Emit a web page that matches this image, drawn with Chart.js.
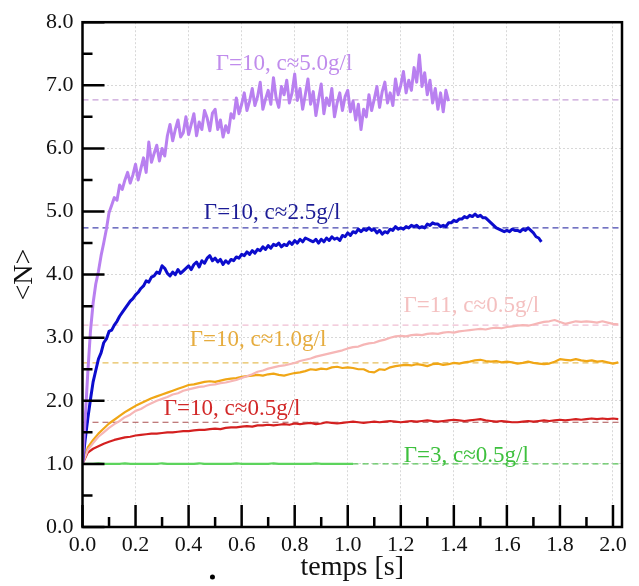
<!DOCTYPE html>
<html>
<head>
<meta charset="utf-8">
<script src="https://cdn.jsdelivr.net/npm/chart.js@4.4.0/dist/chart.umd.min.js"></script>
<style>
  html, body { margin: 0; padding: 0; background: #fff; }
  canvas { display: block; }
</style>
</head>
<body>
<canvas id="chart" width="639" height="586"></canvas>
<script>
// <N> vs temps, sampled every 0.01 s (noisy runs) or 0.02 s (smooth runs)
const g10c50 = [
  1.00, 1.70, 2.45, 3.10, 3.55, 3.85, 4.05, 4.30, 4.50, 4.72,
  4.98, 5.10, 5.22, 5.18, 5.42, 5.35, 5.50, 5.62, 5.45, 5.58,
  5.75, 5.50, 5.68, 5.85, 5.62, 6.10, 5.78, 5.92, 6.05, 5.80,
  6.00, 5.88, 6.20, 6.38, 6.12, 6.30, 6.45, 6.18, 6.25, 6.50,
  6.22, 6.38, 6.55, 6.20, 6.42, 6.30, 6.60, 6.48, 6.28, 6.56,
  6.62, 6.30, 6.45, 6.18, 6.36, 6.25, 6.55, 6.48, 6.80, 6.55,
  6.70, 6.88, 6.60, 6.75, 6.95, 6.68, 6.82, 7.05, 6.62, 6.78,
  6.92, 6.70, 7.12, 6.80, 6.65, 6.98, 6.85, 7.08, 6.72, 6.88,
  7.18, 6.76, 6.95, 6.62, 6.85, 7.10, 6.70, 6.90, 6.52, 6.78,
  7.02, 6.55, 6.80, 6.68, 6.95, 6.50, 6.72, 6.88, 6.60, 6.82,
  6.92, 6.58, 6.75, 6.45, 6.70, 6.30, 6.62, 6.50, 6.85, 6.60,
  6.78, 6.98, 6.65, 6.90, 7.05, 6.72, 6.88, 6.68, 7.10, 6.85,
  7.00, 7.22, 6.88, 7.08, 6.92, 7.28, 7.05, 7.48, 6.98, 7.20,
  6.85, 7.08, 6.72, 6.95, 6.62, 6.88, 6.58, 6.92, 6.75
];
const g10c25 = [
  1.00, 1.38, 1.72, 2.02, 2.30, 2.48, 2.66, 2.76, 2.92, 2.98,
  3.10, 3.12, 3.20, 3.26, 3.34, 3.40, 3.46, 3.52, 3.58, 3.62,
  3.68, 3.72, 3.78, 3.82, 3.90, 3.88, 3.96, 3.98, 4.04, 4.02,
  4.14, 4.10, 4.02, 3.98, 4.04, 4.00, 4.08, 4.02, 4.06, 4.10,
  4.14, 4.08, 4.16, 4.20, 4.12, 4.22, 4.18, 4.26, 4.30, 4.22,
  4.26, 4.20, 4.24, 4.16, 4.22, 4.18, 4.24, 4.22, 4.28, 4.26,
  4.32, 4.30, 4.36, 4.32, 4.38, 4.34, 4.40, 4.38, 4.44, 4.40,
  4.46, 4.42, 4.48, 4.46, 4.50, 4.44, 4.48, 4.46, 4.52, 4.48,
  4.54, 4.50, 4.56, 4.52, 4.58, 4.56, 4.54, 4.52, 4.56, 4.50,
  4.56, 4.52, 4.58, 4.54, 4.60, 4.56, 4.58, 4.54, 4.62, 4.60,
  4.66, 4.62, 4.68, 4.66, 4.72, 4.68, 4.72, 4.70, 4.74, 4.70,
  4.72, 4.66, 4.70, 4.64, 4.68, 4.66, 4.72, 4.70, 4.76, 4.72,
  4.74, 4.72, 4.76, 4.74, 4.78, 4.76, 4.78, 4.74, 4.76, 4.74,
  4.80, 4.78, 4.82, 4.80, 4.80, 4.76, 4.78, 4.76, 4.82, 4.82,
  4.86, 4.84, 4.88, 4.88, 4.92, 4.90, 4.94, 4.92, 4.96, 4.92,
  4.94, 4.90, 4.90, 4.86, 4.82, 4.78, 4.74, 4.72, 4.70, 4.68,
  4.70, 4.68, 4.72, 4.70, 4.70, 4.68, 4.72, 4.70, 4.74, 4.70,
  4.66, 4.60, 4.58, 4.52
];
const g11c05 = [
  1.00, 1.22, 1.33, 1.43, 1.50, 1.57, 1.63, 1.68, 1.74, 1.78,
  1.84, 1.87, 1.92, 1.96, 2.00, 2.03, 2.06, 2.10, 2.12, 2.16,
  2.18, 2.20, 2.22, 2.23, 2.25, 2.26, 2.28, 2.29, 2.31, 2.33,
  2.36, 2.39, 2.42, 2.46, 2.48, 2.51, 2.53, 2.55, 2.56, 2.58,
  2.60, 2.63, 2.65, 2.67, 2.70, 2.72, 2.74, 2.76, 2.78, 2.80,
  2.83, 2.85, 2.86, 2.89, 2.91, 2.92, 2.95, 2.97, 3.00, 3.02,
  3.03, 3.02, 3.04, 3.05, 3.04, 3.06, 3.07, 3.06, 3.08, 3.09,
  3.08, 3.10, 3.11, 3.12, 3.13, 3.14, 3.13, 3.15, 3.16, 3.15,
  3.17, 3.18, 3.19, 3.20, 3.19, 3.21, 3.23, 3.25, 3.26, 3.28,
  3.25, 3.22, 3.24, 3.26, 3.25, 3.26, 3.25, 3.24, 3.26, 3.24,
  3.22, 3.21
];
const g10c10 = [
  1.00, 1.26, 1.38, 1.48, 1.56, 1.64, 1.70, 1.76, 1.82, 1.87,
  1.92, 1.96, 2.00, 2.04, 2.07, 2.10, 2.13, 2.16, 2.19, 2.22,
  2.25, 2.26, 2.28, 2.30, 2.31, 2.30, 2.32, 2.34, 2.35, 2.36,
  2.38, 2.39, 2.40, 2.41, 2.40, 2.42, 2.43, 2.41, 2.40, 2.42,
  2.44, 2.45, 2.47, 2.50, 2.49, 2.51, 2.50, 2.53, 2.54, 2.52,
  2.53, 2.52, 2.50, 2.50, 2.46, 2.45, 2.50, 2.49, 2.53, 2.55,
  2.56, 2.57, 2.56, 2.58, 2.57, 2.55, 2.58, 2.59, 2.57, 2.58,
  2.60, 2.59, 2.61, 2.62, 2.64, 2.65, 2.63, 2.62, 2.63, 2.61,
  2.62, 2.61, 2.59, 2.60, 2.62, 2.60, 2.59, 2.58, 2.59, 2.62,
  2.66, 2.65, 2.64, 2.66, 2.64, 2.63, 2.64, 2.62, 2.63, 2.61,
  2.59, 2.61
];
const g10c05 = [
  1.00, 1.18, 1.24, 1.28, 1.32, 1.35, 1.38, 1.40, 1.42, 1.43,
  1.45, 1.46, 1.47, 1.48, 1.48, 1.49, 1.50, 1.50, 1.51, 1.52,
  1.52, 1.53, 1.54, 1.54, 1.55, 1.56, 1.55, 1.57, 1.58, 1.58,
  1.59, 1.60, 1.59, 1.61, 1.61, 1.62, 1.61, 1.62, 1.63, 1.62,
  1.64, 1.63, 1.64, 1.65, 1.63, 1.64, 1.66, 1.65, 1.64, 1.65,
  1.66, 1.67, 1.66, 1.65, 1.66, 1.67, 1.66, 1.67, 1.68, 1.67,
  1.66, 1.67, 1.68, 1.67, 1.68, 1.69, 1.68, 1.67, 1.68, 1.69,
  1.70, 1.69, 1.68, 1.69, 1.70, 1.71, 1.69, 1.68, 1.67, 1.68,
  1.67, 1.66, 1.66, 1.67, 1.68, 1.67, 1.68, 1.69, 1.68, 1.69,
  1.70, 1.69, 1.70, 1.71, 1.70, 1.71, 1.72, 1.71, 1.72, 1.71,
  1.72, 1.71
];
const g3c05 = [
  1.00, 1.00, 1.00, 1.01, 1.00, 1.00, 1.00, 1.00, 1.01, 1.00,
  1.00, 1.00, 1.00, 1.00, 1.00, 1.01, 1.00, 1.00, 1.00, 1.00,
  1.00, 1.00, 1.01, 1.00, 1.00, 1.00, 1.00, 1.00, 1.00, 1.01,
  1.00, 1.00, 1.00, 1.00, 1.00, 1.00, 1.01, 1.00, 1.00, 1.00,
  1.00, 1.00, 1.00, 1.00, 1.01, 1.00, 1.00, 1.00, 1.00, 1.00,
  1.00, 1.00
];

// plateau levels (dashed guides), same order as the series
const plateaus = [6.77, 4.74, 3.20, 2.60, 1.66, 1.00];
const seriesNames = [
  'Γ=10, c≈5.0g/l', 'Γ=10, c≈2.5g/l', 'Γ=11, c≈0.5g/l',
  'Γ=10, c≈1.0g/l', 'Γ=10, c≈0.5g/l', 'Γ=3, c≈0.5g/l'
];
const xTicks = [0.0, 0.2, 0.4, 0.6, 0.8, 1.0, 1.2, 1.4, 1.6, 1.8, 2.0];
const yTicks = [0, 1, 2, 3, 4, 5, 6, 7, 8];
const xEnd = 2.034;

function toPoints(values, step) {
  return values.map((v, i) => ({ x: +(i * step).toFixed(2), y: v }));
}

const series = [
  { values: g10c50, step: 0.01, line: 'rgb(185,128,240)', dash: 'rgb(200,160,215)', text: 'rgb(192,140,236)', w: 3, note: [0.76, 7.34] },
  { values: g10c25, step: 0.01, line: 'rgb(12,12,205)', dash: 'rgb(70,70,175)', text: 'rgb(28,28,150)', w: 3, note: [0.715, 4.97] },
  { values: g11c05, step: 0.02, line: 'rgb(246,182,182)', dash: 'rgb(240,190,210)', text: 'rgb(244,192,192)', w: 2.2, note: [1.466, 3.50] },
  { values: g10c10, step: 0.02, line: 'rgb(240,166,22)', dash: 'rgb(230,190,90)', text: 'rgb(230,172,62)', w: 2.2, note: [0.662, 2.96] },
  { values: g10c05, step: 0.02, line: 'rgb(212,32,32)', dash: 'rgb(170,80,80)', text: 'rgb(210,40,40)', w: 2.2, note: [0.564, 1.87] },
  { values: g3c05, step: 0.02, line: 'rgb(92,212,92)', dash: 'rgb(90,195,90)', text: 'rgb(62,192,62)', w: 2.2, note: [1.447, 1.13] }
];

const datasets = [];
series.forEach((s, i) => {
  datasets.push({
    label: seriesNames[i],
    data: toPoints(s.values, s.step),
    borderColor: s.line,
    borderWidth: s.w,
    borderJoinStyle: 'round',
    pointRadius: 0,
    tension: 0
  });
});
series.forEach((s, i) => {
  datasets.push({
    label: seriesNames[i] + ' plateau',
    data: [{ x: 0, y: plateaus[i] }, { x: xEnd, y: plateaus[i] }],
    borderColor: s.dash,
    borderWidth: 1.2,
    borderDash: [6, 4],
    pointRadius: 0
  });
});

const serif = '"Liberation Serif", "Times New Roman", serif';

const decor = {
  id: 'decor',
  afterDatasetsDraw(chart) {
    const { ctx, chartArea: a, scales: { x, y } } = chart;
    ctx.save();
    // curve labels
    ctx.font = '23px ' + serif;
    ctx.textAlign = 'center';
    ctx.textBaseline = 'middle';
    series.forEach((s, i) => {
      ctx.fillStyle = s.text;
      ctx.fillText(seriesNames[i], x.getPixelForValue(s.note[0]), y.getPixelForValue(s.note[1]));
    });
    // inward tick marks
    ctx.strokeStyle = '#000';
    ctx.lineWidth = 2.5;
    ctx.beginPath();
    yTicks.forEach(v => {
      const py = y.getPixelForValue(v);
      ctx.moveTo(a.left, py); ctx.lineTo(a.left + 22, py);
      if (v < 8) {
        const pm = y.getPixelForValue(v + 0.5);
        ctx.moveTo(a.left, pm); ctx.lineTo(a.left + 10, pm);
      }
    });
    xTicks.forEach(v => {
      const px = x.getPixelForValue(v);
      ctx.moveTo(px, a.bottom); ctx.lineTo(px, a.bottom - 22);
      if (v < 2) {
        const pm = x.getPixelForValue(v + 0.1);
        ctx.moveTo(pm, a.bottom); ctx.lineTo(pm, a.bottom - 10);
      }
    });
    ctx.stroke();
    ctx.strokeRect(a.left, a.top, a.right - a.left, a.bottom - a.top);
    // stray dot under the axis
    ctx.fillStyle = '#000';
    ctx.beginPath();
    ctx.arc(x.getPixelForValue(0.49), a.bottom + 50, 2.5, 0, Math.PI * 2);
    ctx.fill();
    ctx.restore();
  }
};

new Chart(document.getElementById('chart'), {
  type: 'line',
  data: { datasets: datasets },
  plugins: [decor],
  options: {
    responsive: false,
    animation: false,
    layout: { padding: { top: 20, right: 17, left: 0, bottom: 0 } },
    plugins: {
      legend: { display: false },
      tooltip: { enabled: false }
    },
    scales: {
      x: {
        type: 'linear',
        min: 0,
        max: xEnd,
        afterBuildTicks: s => { s.ticks = xTicks.map(v => ({ value: v })); },
        afterFit: s => { s.height = 59; },
        ticks: {
          padding: 5,
          color: '#111',
          font: { family: serif, size: 22 },
          autoSkip: false,
          maxRotation: 0,
          callback: v => v.toFixed(1)
        },
        grid: { color: '#d8d8d8', lineWidth: 1, drawTicks: false },
        border: { display: false, dash: [2, 2] },
        title: {
          display: true,
          text: 'temps [s]',
          color: '#111',
          font: { family: serif, size: 28 },
          padding: { top: 0, bottom: 2 }
        }
      },
      y: {
        min: 0,
        max: 8,
        afterBuildTicks: s => { s.ticks = yTicks.map(v => ({ value: v })); },
        afterFit: s => { s.width = 82.5; },
        ticks: {
          padding: 9,
          color: '#111',
          font: { family: serif, size: 22 },
          callback: v => v.toFixed(1)
        },
        grid: { color: '#d8d8d8', lineWidth: 1, drawTicks: false },
        border: { display: false, dash: [2, 2] },
        title: {
          display: true,
          text: '<N>',
          color: '#111',
          font: { family: serif, size: 28 },
          padding: { top: 8, bottom: 0 }
        }
      }
    }
  }
});
</script>
</body>
</html>
